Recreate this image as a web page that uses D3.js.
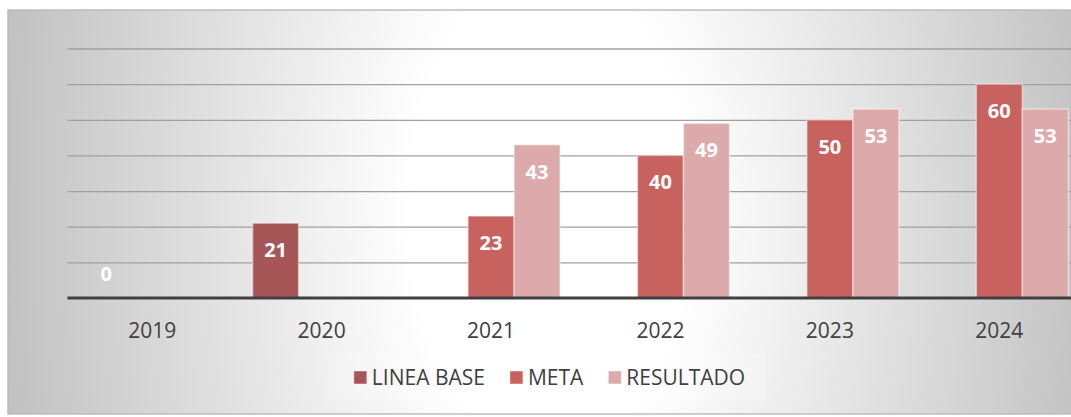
<!DOCTYPE html>
<html>
<head>
<meta charset="utf-8">
<script src="https://cdnjs.cloudflare.com/ajax/libs/d3/7.8.5/d3.min.js"></script>
<style>
  html, body { margin: 0; padding: 0; background: #fff; overflow: hidden; }
  svg { display: block; font-family: "Open Sans", "Liberation Sans", sans-serif; }
</style>
</head>
<body>
<svg id="chart" width="1071" height="417"></svg>
<script>
// data
var years = ["2019", "2020", "2021", "2022", "2023", "2024"];
var seriesNames = ["LINEA BASE", "META", "RESULTADO"];
var lineaBase = [0, 21, null, null, null, null];
var meta = [null, null, 23, 40, 50, 60];
var resultado = [null, null, 43, 49, 53, 53];
var yTicks = [0, 10, 20, 30, 40, 50, 60, 70];

var COLORS = {
    "LINEA BASE": "#a65656",
    "META": "#c8625f",
    "RESULTADO": "#dcaaaa"
};

var svg = d3.select("#chart");
var W = 1071, H = 417;

// background gradient of the chart area
var defs = svg.append("defs");
var grad = defs.append("radialGradient")
    .attr("id", "bg")
    .attr("gradientUnits", "userSpaceOnUse")
    .attr("cx", 550).attr("cy", 210).attr("r", 560)
    .attr("gradientTransform", "translate(550 210) scale(1 1.7) translate(-550 -210)");
grad.append("stop").attr("offset", 0).attr("stop-color", "#ffffff");
grad.append("stop").attr("offset", 0.25).attr("stop-color", "#ffffff");
grad.append("stop").attr("offset", 1).attr("stop-color", "#c0c0c0");

svg.append("rect")
    .attr("x", 8).attr("y", 10)
    .attr("width", W).attr("height", 404)
    .attr("fill", "url(#bg)")
    .attr("stroke", "#bdbdbd")
    .attr("stroke-width", 1.5);

var plotLeft = 67.5, plotRight = 1084, baseY = 298, topY = 48.5;

var x0 = d3.scaleBand()
    .domain(years)
    .range([plotLeft, plotRight])
    .paddingInner(0.185)
    .paddingOuter(0.0925);

var x1 = d3.scaleBand()
    .domain(seriesNames)
    .range([0, x0.bandwidth()]);

var y = d3.scaleLinear()
    .domain([0, 70])
    .range([baseY, topY]);

// gridlines
var grid = svg.append("g").attr("class", "y-grid")
    .attr("transform", "translate(" + plotLeft + " 0)")
    .call(d3.axisLeft(y).tickValues(yTicks.slice(1)).tickSize(-(W - plotLeft)).tickFormat(""));
grid.select(".domain").remove();
grid.selectAll("line")
    .attr("stroke", "#a0a0a0")
    .attr("stroke-width", 1.3);

// bars
var table = years.map(function(yr, i) {
    return {
        year: yr,
        values: [
            { key: "LINEA BASE", value: lineaBase[i] },
            { key: "META", value: meta[i] },
            { key: "RESULTADO", value: resultado[i] }
        ].filter(function(d) { return d.value !== null; })
    };
});

var groups = svg.append("g").attr("class", "bars")
    .selectAll("g")
    .data(table)
    .enter()
    .append("g")
    .attr("transform", function(d) { return "translate(" + x0(d.year) + " 0)"; });

groups.selectAll("rect")
    .data(function(d) { return d.values.filter(function(v) { return v.value > 0; }); })
    .enter()
    .append("rect")
    .attr("x", function(d) { return x1(d.key); })
    .attr("y", function(d) { return y(d.value); })
    .attr("width", x1.bandwidth())
    .attr("height", function(d) { return baseY - y(d.value); })
    .attr("fill", function(d) { return COLORS[d.key]; })
    .attr("stroke", "rgba(255,255,255,0.45)")
    .attr("stroke-width", 1.5);

// value labels, inside end
groups.selectAll("text")
    .data(function(d) { return d.values; })
    .enter()
    .append("text")
    .attr("x", function(d) { return x1(d.key) + x1.bandwidth() / 2; })
    .attr("y", function(d) { return Math.min(y(d.value) + 27, baseY - 24); })
    .attr("dy", "0.35em")
    .attr("text-anchor", "middle")
    .attr("fill", "#ffffff")
    .style("font-size", "20px")
    .style("font-weight", "bold")
    .text(function(d) { return d.value; });

// x axis
var xAxis = svg.append("g").attr("class", "x-axis")
    .attr("transform", "translate(0 " + baseY + ")")
    .call(d3.axisBottom(x0).tickSize(0).tickPadding(0));
xAxis.select(".domain").remove();
xAxis.append("line")
    .attr("x1", plotLeft).attr("x2", W)
    .attr("y1", 0).attr("y2", 0)
    .attr("stroke", "#404040")
    .attr("stroke-width", 3);
xAxis.selectAll(".tick text")
    .attr("y", 33)
    .attr("dy", "0.35em")
    .attr("fill", "#404040")
    .style("font-family", "'Open Sans', sans-serif")
    .style("font-size", "21px");

// legend
var legend = svg.append("g").attr("class", "legend");
legend.append("rect")
    .attr("x", 328).attr("y", 353)
    .attr("width", 437).attr("height", 47)
    .attr("fill", "#ffffff")
    .attr("opacity", 0.2);

var items = legend.selectAll("g.item")
    .data(seriesNames)
    .enter()
    .append("g")
    .attr("class", "item");
items.append("rect")
    .attr("width", 13).attr("height", 13)
    .attr("y", 371)
    .attr("fill", function(d) { return COLORS[d]; })
    .attr("stroke", "rgba(255,255,255,0.45)");
items.append("text")
    .attr("x", 18)
    .attr("y", 377.5)
    .attr("dy", "0.35em")
    .attr("fill", "#404040")
    .style("font-size", "21px")
    .text(function(d) { return d; });

var widths = [];
items.each(function() { widths.push(18 + d3.select(this).select("text").node().getComputedTextLength()); });
var gap = 25;
var total = d3.sum(widths) + gap * (widths.length - 1);
var cur = 549.5 - total / 2;
items.attr("transform", function(d, i) {
    var t = "translate(" + cur + " 0)";
    cur += widths[i] + gap;
    return t;
});
</script>
</body>
</html>
